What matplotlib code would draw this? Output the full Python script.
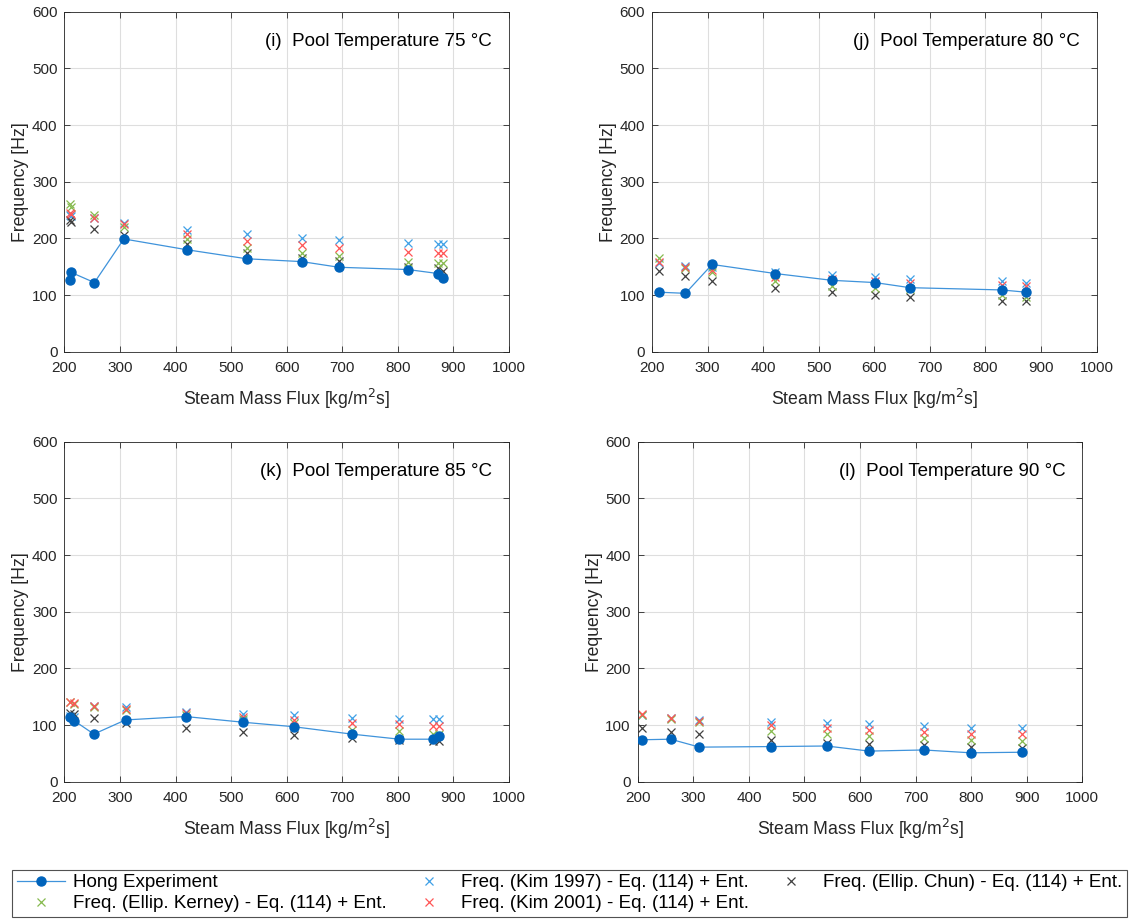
import matplotlib
matplotlib.use("Agg")
import matplotlib.pyplot as plt
from matplotlib.lines import Line2D

plt.rcParams['font.family'] = ['Liberation Sans', 'DejaVu Sans']

# pool temperature panels
labels = ['(i)  Pool Temperature 75 °C', '(j)  Pool Temperature 80 °C',
          '(k)  Pool Temperature 85 °C', '(l)  Pool Temperature 90 °C']

# 75 C
flux_75 = [210, 212, 254, 307, 420, 528, 627, 694, 818, 872, 881]
hong_75 = [127, 140, 122, 199, 180, 164, 159, 149, 145, 138, 130]
kim97_75 = [241, 239, 236, 227, 215, 208, 201, 198, 192, 190, 190]
kim01_75 = [245, 243, 236, 225, 208, 195, 188, 183, 176, 174, 174]
kerney_75 = [261, 256, 242, 220, 199, 183, 174, 169, 159, 157, 156]
chun_75 = [232, 229, 217, 206, 190, 174, 165, 160, 150, 148, 143]

# 80 C
flux_80 = [212, 260, 308, 421, 523, 601, 664, 829, 873]
hong_80 = [105, 103, 154, 138, 126, 122, 113, 109, 105]
kim97_80 = [157, 152, 150, 141, 135, 131, 129, 125, 122]
kim01_80 = [159, 150, 144, 132, 128, 125, 121, 117, 116]
kerney_80 = [165, 148, 141, 124, 116, 112, 110, 100, 97]
chun_80 = [142, 134, 125, 113, 105, 100, 97, 90, 89]

# 85 C
flux_85 = [210, 217, 253, 310, 418, 521, 613, 717, 803, 863, 874]
hong_85 = [114, 108, 84, 109, 115, 105, 97, 84, 75, 75, 81]
kim97_85 = [116, 114, 133, 132, 123, 119, 117, 113, 110, 110, 110]
kim01_85 = [140, 139, 134, 129, 121, 115, 109, 103, 101, 98, 98]
kerney_85 = [141, 138, 132, 126, 118, 110, 103, 92, 90, 85, 85]
chun_85 = [121, 119, 113, 103, 94, 88, 82, 78, 73, 72, 72]

# 90 C
flux_90 = [207, 259, 311, 440, 540, 616, 715, 799, 892]
hong_90 = [74, 75, 61, 62, 63, 54, 56, 51, 52]
kim97_90 = [118, 113, 109, 106, 103, 102, 98, 95, 94]
kim01_90 = [119, 112, 107, 100, 95, 91, 87, 84, 84]
kerney_90 = [117, 111, 105, 90, 85, 81, 78, 74, 72]
chun_90 = [95, 87, 84, 74, 69, 67, 64, 61, 59]

panels = [
    (flux_75, hong_75, kim97_75, kim01_75, kerney_75, chun_75),
    (flux_80, hong_80, kim97_80, kim01_80, kerney_80, chun_80),
    (flux_85, hong_85, kim97_85, kim01_85, kerney_85, chun_85),
    (flux_90, hong_90, kim97_90, kim01_90, kerney_90, chun_90),
]

c_line = '#3f93db'
c_dot = '#0063bb'
c_kim97 = '#3fa0e6'
c_kim01 = '#ff5555'
c_kerney = '#86ba4e'
c_chun = '#404040'

W, H = 1131, 922
fig = plt.figure(figsize=(W / 100, H / 100), dpi=100)

# axes boxes in pixels: left, bottom(from top)
boxes = [(64.4, 351.7), (652.1, 351.7), (64.4, 781.7), (637.8, 781.7)]
aw, ah = 444.5, 340

for (x0, yb), lab, data in zip(boxes, labels, panels):
    ax = fig.add_axes([x0 / W, (H - yb) / H, aw / W, ah / H])
    flux, hong, k97, k01, ker, chun = data
    mk = dict(marker='x', linestyle='none', markersize=6, markeredgewidth=0.9)
    ax.plot(flux, k97, color=c_kim97, **mk)
    ax.plot(flux, chun, color=c_chun, **mk)
    ax.plot(flux, ker, color=c_kerney, **mk)
    ax.plot(flux, k01, color=c_kim01, **mk)
    ax.plot(flux, hong, color=c_line, lw=0.9, marker='o', markersize=6.5,
            markerfacecolor=c_dot, markeredgecolor=c_dot, zorder=5)

    ax.set_xlim(200, 1000)
    ax.set_ylim(0, 600)
    ax.set_xticks(range(200, 1001, 100))
    ax.set_yticks(range(0, 601, 100))
    ax.grid(True, color='#dedede', lw=0.8)
    ax.set_axisbelow(True)
    ax.tick_params(direction='in', top=True, right=True, length=4,
                   labelsize=11, colors='#262626', width=0.6)
    ax.tick_params(axis='x', pad=7)
    ax.tick_params(axis='y', pad=5)
    for s in ax.spines.values():
        s.set_color('#262626')
        s.set_linewidth(0.6)
    ax.set_xlabel('Steam Mass Flux [kg/m$^2$s]', fontsize=12.7, color='#262626', labelpad=8)
    ax.set_ylabel('Frequency [Hz]', fontsize=12.7, color='#262626', labelpad=2)
    ax.text(0.962, 0.911, lab, transform=ax.transAxes, ha='right', va='center',
            fontsize=13.5, color='black')

handles = [
    Line2D([], [], color=c_line, lw=0.9, marker='o', markersize=6.5,
           markerfacecolor=c_dot, markeredgecolor=c_dot),
    Line2D([], [], color=c_kerney, marker='x', linestyle='none', markersize=6, markeredgewidth=0.9),
    Line2D([], [], color=c_kim97, marker='x', linestyle='none', markersize=6, markeredgewidth=0.9),
    Line2D([], [], color=c_kim01, marker='x', linestyle='none', markersize=6, markeredgewidth=0.9),
    Line2D([], [], color=c_chun, marker='x', linestyle='none', markersize=6, markeredgewidth=0.9),
]
names = [
    'Hong Experiment',
    'Freq. (Ellip. Kerney) - Eq. (114) + Ent.',
    'Freq. (Kim 1997) - Eq. (114) + Ent.',
    'Freq. (Kim 2001) - Eq. (114) + Ent.',
    'Freq. (Ellip. Chun) - Eq. (114) + Ent.',
]
leg = fig.legend(handles, names, ncol=3, loc='lower left',
                 bbox_to_anchor=(12 / W, 5 / H, 1115 / W, 51 / H), mode='expand',
                 fontsize=13.5, handlelength=2.6, handletextpad=0.4, columnspacing=0.8,
                 numpoints=1, fancybox=False, borderpad=0.25, labelspacing=0.2,
                 borderaxespad=0)
leg.get_frame().set_edgecolor('#262626')
leg.get_frame().set_linewidth(0.8)

fig.savefig('out.png', dpi=100)
